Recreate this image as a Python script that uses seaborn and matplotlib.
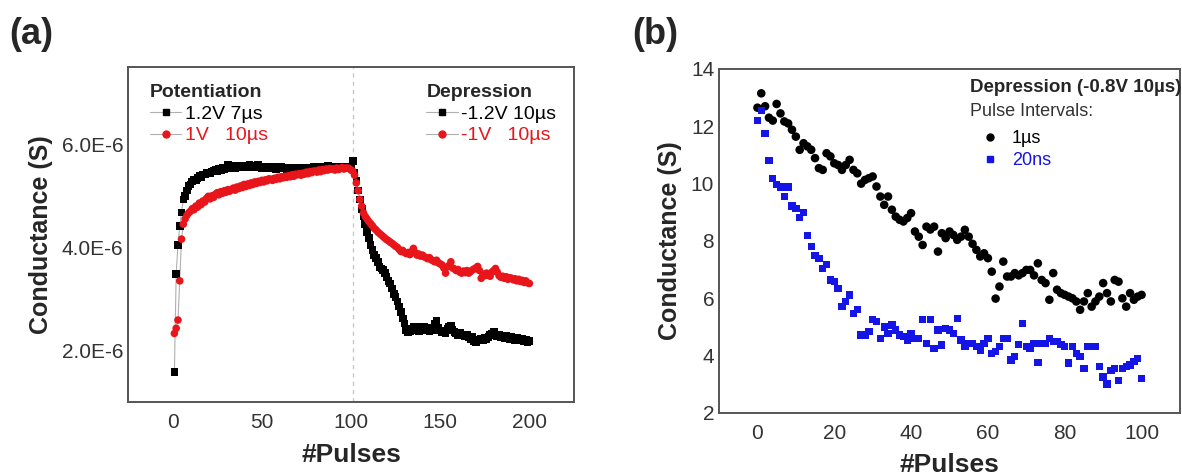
import numpy as np
import pandas as pd
import seaborn as sns
import matplotlib.pyplot as plt
from matplotlib.lines import Line2D
from matplotlib.ticker import MultipleLocator, FuncFormatter

# ---- panel (a): conductance in units of 1E-6 S, pulses 1..200 ----
pot_12v = [1.58, 3.48, 4.05, 4.41, 4.68, 4.93, 5.00, 5.10, 5.19, 5.22,
           5.28, 5.32, 5.30, 5.35, 5.38, 5.36, 5.41, 5.41, 5.44, 5.45,
           5.43, 5.47, 5.48, 5.50, 5.47, 5.52, 5.50, 5.54, 5.52, 5.55,
           5.61, 5.56, 5.54, 5.58, 5.54, 5.56, 5.59, 5.55, 5.57, 5.56,
           5.58, 5.55, 5.60, 5.57, 5.59, 5.56, 5.58, 5.61, 5.57, 5.53,
           5.55, 5.56, 5.53, 5.55, 5.57, 5.54, 5.56, 5.52, 5.55, 5.54,
           5.56, 5.53, 5.55, 5.52, 5.54, 5.53, 5.55, 5.52, 5.54, 5.51,
           5.53, 5.52, 5.54, 5.51, 5.53, 5.55, 5.52, 5.54, 5.56, 5.55,
           5.57, 5.54, 5.56, 5.55, 5.57, 5.56, 5.58, 5.55, 5.57, 5.56,
           5.55, 5.57, 5.54, 5.56, 5.55, 5.57, 5.54, 5.56, 5.55, 5.57]
dep_12v = [5.68, 5.45, 5.30, 5.10, 4.93, 4.75, 4.60, 4.45, 4.30, 4.18,
           4.05, 3.95, 3.85, 3.79, 3.72, 3.62, 3.59, 3.56, 3.50, 3.42,
           3.35, 3.30, 3.20, 3.10, 3.04, 2.95, 2.85, 2.75, 2.62, 2.52,
           2.40, 2.36, 2.38, 2.42, 2.45, 2.40, 2.44, 2.38, 2.46, 2.42,
           2.45, 2.39, 2.43, 2.37, 2.44, 2.40, 2.52, 2.58, 2.44, 2.39,
           2.36, 2.39, 2.33, 2.42, 2.45, 2.47, 2.40, 2.36, 2.33, 2.29,
           2.34, 2.29, 2.31, 2.27, 2.30, 2.26, 2.22, 2.26, 2.18, 2.16,
           2.21, 2.19, 2.23, 2.20, 2.25, 2.22, 2.26, 2.30, 2.33, 2.36,
           2.30, 2.27, 2.31, 2.25, 2.28, 2.24, 2.29, 2.26, 2.22, 2.26,
           2.23, 2.20, 2.24, 2.21, 2.19, 2.22, 2.18, 2.20, 2.16, 2.18]
pot_1v = [2.33, 2.43, 2.59, 3.35, 4.16, 4.45, 4.55, 4.62, 4.67, 4.70,
          4.75, 4.73, 4.80, 4.78, 4.86, 4.83, 4.90, 4.88, 4.95, 4.99,
          4.94, 5.00, 4.97, 5.03, 5.06, 5.02, 5.08, 5.05, 5.10, 5.07,
          5.12, 5.09, 5.12, 5.15, 5.11, 5.17, 5.14, 5.19, 5.16, 5.22,
          5.18, 5.23, 5.20, 5.25, 5.22, 5.27, 5.24, 5.28, 5.26, 5.30,
          5.27, 5.31, 5.29, 5.33, 5.32, 5.30, 5.34, 5.32, 5.36, 5.33,
          5.37, 5.35, 5.38, 5.36, 5.39, 5.37, 5.41, 5.38, 5.42, 5.41,
          5.43, 5.40, 5.44, 5.42, 5.46, 5.43, 5.47, 5.45, 5.48, 5.48,
          5.46, 5.50, 5.47, 5.51, 5.49, 5.52, 5.50, 5.53, 5.52, 5.52,
          5.50, 5.54, 5.51, 5.53, 5.55, 5.52, 5.54, 5.54, 5.53, 5.50]
dep_1v = [5.48, 5.40, 5.25, 5.10, 4.93, 4.80, 4.67, 4.60, 4.55, 4.50,
          4.46, 4.42, 4.37, 4.34, 4.30, 4.27, 4.24, 4.21, 4.18, 4.15,
          4.13, 4.10, 4.08, 4.05, 4.02, 4.00, 3.96, 3.92, 3.94, 3.90,
          3.88, 3.90, 3.86, 3.92, 3.98, 3.90, 3.85, 3.87, 3.83, 3.85,
          3.82, 3.80, 3.78, 3.80, 3.76, 3.74, 3.72, 3.75, 3.70, 3.68,
          3.66, 3.60, 3.50, 3.62, 3.65, 3.72, 3.60, 3.58, 3.55, 3.57,
          3.52, 3.50, 3.54, 3.51, 3.55, 3.50, 3.53, 3.56, 3.58, 3.60,
          3.63, 3.55, 3.40, 3.48, 3.45, 3.50, 3.46, 3.44, 3.52, 3.55,
          3.59, 3.52, 3.45, 3.42, 3.44, 3.40, 3.43, 3.38, 3.41, 3.40,
          3.37, 3.39, 3.35, 3.38, 3.34, 3.36, 3.32, 3.35, 3.31, 3.30]

# ---- panel (b): depression at -0.8V 10us, pulses 0..100 ----
interval_1us = [12.65, 13.15, 12.70, 12.30, 12.20, 12.78, 12.45, 12.17, 12.10, 11.88,
                11.64, 11.18, 11.41, 11.30, 11.18, 10.89, 10.54, 10.48, 11.06, 10.95,
                10.71, 10.65, 10.48, 10.65, 10.83, 10.48, 10.36, 10.00, 10.13, 10.19,
                10.25, 9.90, 9.55, 9.26, 9.55, 9.09, 8.85, 8.74, 8.68, 8.80,
                8.97, 8.33, 8.15, 7.86, 8.50, 8.40, 8.50, 7.63, 8.27, 8.10,
                8.33, 8.21, 8.04, 8.15, 8.39, 8.15, 7.90, 7.69, 7.46, 7.57,
                7.40, 6.93, 5.99, 6.41, 7.28, 6.76, 6.76, 6.88, 6.80, 6.88,
                6.99, 6.99, 6.80, 7.22, 6.64, 6.53, 5.95, 6.88, 6.30, 6.18,
                6.12, 6.06, 6.00, 5.89, 5.60, 5.89, 6.18, 5.71, 5.89, 6.06,
                6.53, 6.18, 5.89, 6.64, 6.58, 6.00, 5.71, 6.18, 5.95, 6.06,
                6.12]
interval_20ns = [12.20, 12.55, 11.76, 10.80, 10.19, 9.96, 9.88, 9.55, 9.88, 9.22,
                 9.14, 8.83, 9.00, 8.20, 7.80, 7.50, 7.40, 7.05, 7.17, 6.64,
                 6.58, 6.35, 5.72, 5.89, 6.12, 5.48, 5.60, 4.72, 4.72, 4.84,
                 5.25, 5.19, 4.60, 5.00, 4.78, 5.07, 4.90, 4.72, 4.67, 4.55,
                 4.78, 4.60, 4.60, 5.25, 4.43, 5.25, 4.26, 4.90, 4.37, 4.95,
                 4.90, 4.78, 5.30, 4.55, 4.32, 4.43, 4.43, 4.32, 4.20, 4.43,
                 4.60, 4.08, 4.14, 4.32, 4.60, 4.60, 3.85, 3.97, 4.38, 5.13,
                 4.32, 4.26, 4.43, 3.76, 4.43, 4.43, 4.60, 4.49, 4.49, 4.38,
                 4.32, 3.74, 4.32, 4.08, 3.97, 3.56, 4.31, 4.32, 4.31, 3.62,
                 3.25, 3.01, 3.48, 3.56, 3.13, 3.56, 3.62, 3.67, 3.79, 3.90,
                 3.20]

RED = '#e8151b'
BLUE = '#1414e6'
GREY = '#b0b0b0'

pulses_a = np.arange(1, 201)
df_a = pd.DataFrame({
    'pulse': np.concatenate([pulses_a, pulses_a]),
    'G': np.array(pot_12v + dep_12v + pot_1v + dep_1v) * 1e-6,
    'set': ['1.2V'] * 200 + ['1V'] * 200,
})
pulses_b = np.arange(0, 101)
df_b = pd.DataFrame({
    'pulse': np.concatenate([pulses_b, pulses_b]),
    'G': interval_1us + interval_20ns,
    'interval': ['1us'] * 101 + ['20ns'] * 101,
})

sns.set_style('white')
plt.rcParams['font.family'] = ['Liberation Sans', 'DejaVu Sans']

fig = plt.figure(figsize=(11.82, 4.76), dpi=100)
ax1 = fig.add_axes([0.1083, 0.1555, 0.3773, 0.7038])
ax2 = fig.add_axes([0.6083, 0.1324, 0.39, 0.7227])

# panel (a)
for name, col, mk in [('1.2V', 'black', 's'), ('1V', RED, 'o')]:
    sub = df_a[df_a['set'] == name]
    sns.lineplot(data=sub, x='pulse', y='G', color=GREY, lw=0.8, ax=ax1)
    sns.scatterplot(data=sub, x='pulse', y='G', color=col, marker=mk, s=30,
                    edgecolor='none', ax=ax1, zorder=3)
ax1.axvline(101, color='#c8c8c8', ls=(0, (3, 3)), lw=1)
ax1.set_xlim(-25, 225)
ax1.set_ylim(1.0e-6, 7.5e-6)
ax1.xaxis.set_major_locator(MultipleLocator(50))
ax1.xaxis.set_minor_locator(MultipleLocator(25))
ax1.yaxis.set_major_locator(MultipleLocator(2e-6))
ax1.yaxis.set_minor_locator(MultipleLocator(1e-6))
ax1.yaxis.set_major_formatter(FuncFormatter(lambda v, p: f'{v * 1e6:.1f}E-6'))

h_blk = Line2D([], [], color=GREY, lw=0.8, marker='s', mfc='black', mec='black', ms=5)
h_red = Line2D([], [], color=GREY, lw=0.8, marker='o', mfc=RED, mec=RED, ms=5)
leg1 = ax1.legend([h_blk, h_red], ['1.2V 7\u00b5s', '1V   10\u00b5s'], title='Potentiation',
                  loc='upper left', bbox_to_anchor=(0.01, 1.0), frameon=False, fontsize=14,
                  labelcolor=['black', RED], handlelength=1.6, handletextpad=0.2,
                  labelspacing=0.2, alignment='left',
                  title_fontproperties={'weight': 'bold', 'size': 14})
ax1.add_artist(leg1)
ax1.legend([h_blk, h_red], ['-1.2V 10\u00b5s', '-1V   10\u00b5s'], title='Depression',
           loc='upper right', bbox_to_anchor=(1.0, 1.0), frameon=False, fontsize=14,
           labelcolor=['black', RED], handlelength=1.6, handletextpad=0.2,
           labelspacing=0.2, alignment='left',
           title_fontproperties={'weight': 'bold', 'size': 14})

# panel (b)
sns.scatterplot(data=df_b[df_b['interval'] == '1us'], x='pulse', y='G', color='black',
                marker='o', s=38, edgecolor='none', ax=ax2)
sns.scatterplot(data=df_b[df_b['interval'] == '20ns'], x='pulse', y='G', color=BLUE,
                marker='s', s=28, edgecolor='none', ax=ax2)
ax2.set_xlim(-10, 110)
ax2.set_ylim(2, 14)
ax2.xaxis.set_major_locator(MultipleLocator(20))
ax2.xaxis.set_minor_locator(MultipleLocator(10))
ax2.yaxis.set_major_locator(MultipleLocator(2))
ax2.yaxis.set_minor_locator(MultipleLocator(1))
h1 = Line2D([], [], ls='none', marker='o', color='black', ms=5)
h2 = Line2D([], [], ls='none', marker='s', color=BLUE, ms=4.5)
ax2.legend([h1, h2], ['1\u00b5s', '20ns'], loc='upper left', bbox_to_anchor=(0.53, 0.87),
           frameon=False, fontsize=13, labelcolor=['black', BLUE], handlelength=1.2,
           handletextpad=0.6, labelspacing=0.3)
ax2.text(0.545, 0.945, 'Depression (-0.8V 10\u00b5s)', transform=ax2.transAxes,
         fontsize=13.5, fontweight='bold', va='center', ha='left')
ax2.text(0.545, 0.875, 'Pulse Intervals:', transform=ax2.transAxes,
         fontsize=13, va='center', ha='left', color='#333333')

for ax in (ax1, ax2):
    for sp in ax.spines.values():
        sp.set_color('#555555')
        sp.set_linewidth(1.4)
    ax.tick_params(which='both', direction='in', colors='#555555', labelcolor='#333333',
                   labelsize=15, top=False, right=False)
    ax.tick_params(which='major', length=5, width=1)
    ax.tick_params(which='minor', length=3, width=1)
    ax.tick_params(axis='x', which='major', pad=8)
    ax.set_ylabel('Conductance (S)', fontsize=18, fontweight='bold', labelpad=6)
ax1.set_xlabel('#Pulses', fontsize=19, fontweight='bold', labelpad=8)
ax2.set_xlabel('#Pulses', fontsize=19, fontweight='bold', labelpad=7)

fig.text(0.008, 0.965, '(a)', fontsize=26, fontweight='bold', va='top')
fig.text(0.535, 0.965, '(b)', fontsize=26, fontweight='bold', va='top')

fig.savefig('out.png', dpi=100, facecolor='white')
